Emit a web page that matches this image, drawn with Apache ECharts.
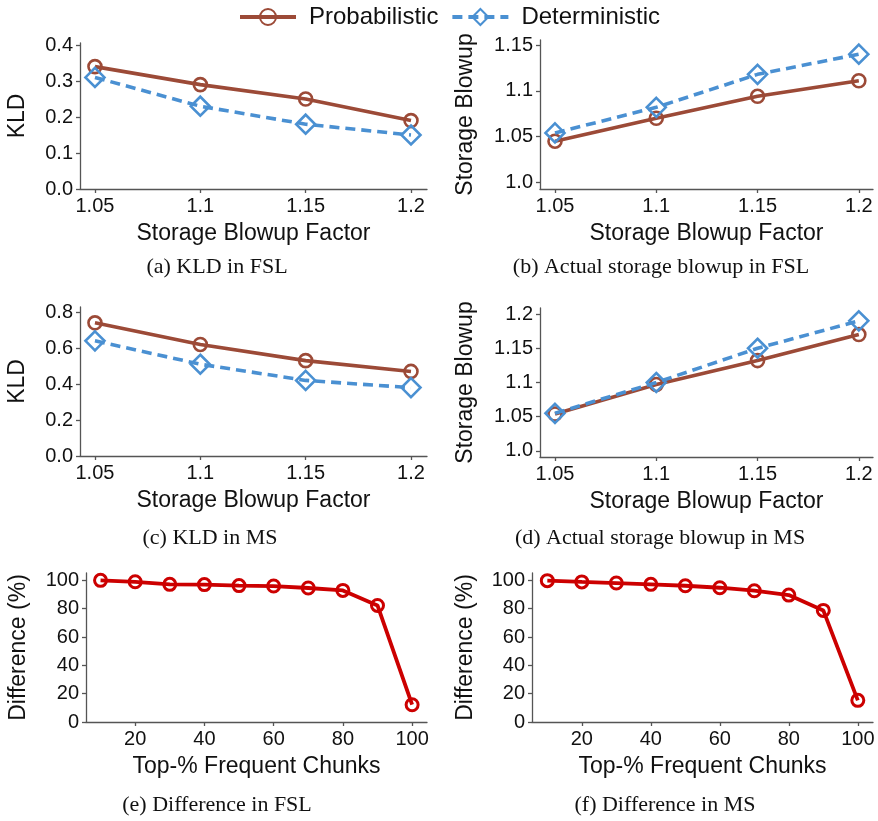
<!DOCTYPE html>
<html>
<head>
<meta charset="utf-8">
<script src="https://cdn.jsdelivr.net/npm/echarts@6/dist/echarts.min.js"></script>
<style>
  html, body { margin: 0; padding: 0; background: #fff; }
  #chart { width: 878px; height: 821px; }
</style>
</head>
<body>
<div id="chart"></div>
<script>
// x values
const blowupFactors = [1.05, 1.1, 1.15, 1.2];
const topPercent = [10, 20, 30, 40, 50, 60, 70, 80, 90, 100];

// (a) KLD in FSL
const kldFslProb = [0.34, 0.29, 0.25, 0.19];
const kldFslDet = [0.31, 0.23, 0.18, 0.15];
// (b) actual storage blowup in FSL
const blowFslProb = [1.045, 1.070, 1.094, 1.111];
const blowFslDet = [1.054, 1.082, 1.118, 1.140];
// (c) KLD in MS
const kldMsProb = [0.74, 0.62, 0.53, 0.47];
const kldMsDet = [0.64, 0.51, 0.42, 0.38];
// (d) actual storage blowup in MS
const blowMsProb = [1.054, 1.097, 1.132, 1.170];
const blowMsDet = [1.055, 1.100, 1.150, 1.190];
// (e)(f) difference
const diffFsl = [100, 99, 97.2, 97, 96.3, 96, 94.6, 92.9, 82.3, 12.2];
const diffMs = [99.8, 98.9, 98.1, 97.2, 96.2, 94.8, 92.7, 89.6, 78.8, 15.3];

// tick labels
const blowupTicks = [1.05, 1.1, 1.15, 1.2];
const kldFslTicks = [0, 0.1, 0.2, 0.3, 0.4];
const kldMsTicks = [0, 0.2, 0.4, 0.6, 0.8];
const blowFslTicks = [1.0, 1.05, 1.1, 1.15];
const blowMsTicks = [1.0, 1.05, 1.1, 1.15, 1.2];
const topTicks = [20, 40, 60, 80, 100];
const diffTicks = [0, 20, 40, 60, 80, 100];

const captions = [
  '(a) KLD in FSL', '(b) Actual storage blowup in FSL',
  '(c) KLD in MS', '(d) Actual storage blowup in MS',
  '(e) Difference in FSL', '(f) Difference in MS'
];

const colProb = '#9c4a37';
const colDet = '#4a90d2';
const colRed = '#cc0000';
const sans = 'Liberation Sans, Arial, sans-serif';
const axisCol = '#555';

const pairs = (xs, ys) => xs.map((x, i) => [x, ys[i]]);

function xAxis(idx, min, max, ticks, name) {
  return {
    type: 'value', gridIndex: idx, min: min, max: max,
    name: name, nameLocation: 'middle', nameGap: 33,
    nameTextStyle: { fontFamily: sans, fontSize: 23, color: '#111' },
    axisLine: { show: true, lineStyle: { color: axisCol, width: 1.3 } },
    axisTick: { show: true, length: 4, customValues: ticks, lineStyle: { color: axisCol, width: 1.3 } },
    axisLabel: { customValues: ticks, fontFamily: sans, fontSize: 20, color: '#111', margin: 7 },
    splitLine: { show: false }
  };
}

function yAxis(idx, min, max, ticks, name, gap, fmt) {
  return {
    type: 'value', gridIndex: idx, min: min, max: max,
    name: name, nameLocation: 'middle', nameGap: gap, nameRotate: 90,
    nameTextStyle: { fontFamily: sans, fontSize: 23, color: '#111' },
    axisLine: { show: true, lineStyle: { color: axisCol, width: 1.3 } },
    axisTick: { show: true, length: 4, customValues: ticks, lineStyle: { color: axisCol, width: 1.3 } },
    axisLabel: { customValues: ticks, fontFamily: sans, fontSize: 20, color: '#111', margin: 7, formatter: fmt },
    splitLine: { show: false }
  };
}

function probSeries(idx, ys) {
  return {
    name: 'Probabilistic', type: 'line', xAxisIndex: idx, yAxisIndex: idx,
    data: pairs(blowupFactors, ys),
    symbol: 'circle', symbolSize: 13,
    lineStyle: { color: colProb, width: 3.6 },
    itemStyle: { color: 'rgba(255,255,255,0)', borderColor: colProb, borderWidth: 2.6 },
    z: 3
  };
}

function detSeries(idx, ys) {
  return {
    name: 'Deterministic', type: 'line', xAxisIndex: idx, yAxisIndex: idx,
    data: pairs(blowupFactors, ys),
    symbol: 'diamond', symbolSize: 19,
    lineStyle: { color: colDet, width: 3.6, type: [10, 6] },
    itemStyle: { color: 'rgba(255,255,255,0)', borderColor: colDet, borderWidth: 2.6 },
    z: 4
  };
}

function diffSeries(idx, ys) {
  return {
    name: 'Difference', type: 'line', xAxisIndex: idx, yAxisIndex: idx,
    data: pairs(topPercent, ys),
    symbol: 'circle', symbolSize: 12,
    lineStyle: { color: colRed, width: 3.8 },
    itemStyle: { color: 'rgba(255,255,255,0)', borderColor: colRed, borderWidth: 3 }
  };
}

const fmt1 = v => v.toFixed(1);
const fmtBlow = v => (v === 1 ? '1.0' : String(+v.toFixed(2)));
const fmtInt = v => String(Math.round(v));

const chart = echarts.init(document.getElementById('chart'), null, { renderer: 'canvas' });

const option = {
  backgroundColor: '#fff',
  animation: false,
  legend: {
    data: ['Probabilistic', 'Deterministic'],
    left: 233, top: 0,
    itemWidth: 56, itemHeight: 20, itemGap: 12,
    lineStyle: { width: 4 },
    textStyle: { fontFamily: sans, fontSize: 24, color: '#111', padding: [0, 0, 0, 8] }
  },
  grid: [
    { left: 80, top: 43, width: 347, height: 146 },
    { left: 540, top: 40, width: 333, height: 149 },
    { left: 80, top: 307, width: 347, height: 149 },
    { left: 540, top: 308, width: 333, height: 149 },
    { left: 86, top: 573, width: 341, height: 149 },
    { left: 532, top: 573, width: 341, height: 149 }
  ],
  xAxis: [
    xAxis(0, 1.0429, 1.2076, blowupTicks, 'Storage Blowup Factor'),
    xAxis(1, 1.0426, 1.207, blowupTicks, 'Storage Blowup Factor'),
    xAxis(2, 1.0429, 1.2076, blowupTicks, 'Storage Blowup Factor'),
    xAxis(3, 1.0426, 1.207, blowupTicks, 'Storage Blowup Factor'),
    xAxis(4, 5.8, 104.3, topTicks, 'Top-% Frequent Chunks'),
    xAxis(5, 5.56, 104.4, topTicks, 'Top-% Frequent Chunks')
  ],
  yAxis: [
    yAxis(0, 0, 0.4056, kldFslTicks, 'KLD', 51, fmt1),
    yAxis(1, 0.9928, 1.1555, blowFslTicks, 'Storage Blowup', 63, fmtBlow),
    yAxis(2, 0, 0.828, kldMsTicks, 'KLD', 51, fmt1),
    yAxis(3, 0.9912, 1.2088, blowMsTicks, 'Storage Blowup', 63, fmtBlow),
    yAxis(4, 0, 105.2, diffTicks, 'Difference (%)', 56, fmtInt),
    yAxis(5, 0, 105.2, diffTicks, 'Difference (%)', 55, fmtInt)
  ],
  series: [
    probSeries(0, kldFslProb), detSeries(0, kldFslDet),
    probSeries(1, blowFslProb), detSeries(1, blowFslDet),
    probSeries(2, kldMsProb), detSeries(2, kldMsDet),
    probSeries(3, blowMsProb), detSeries(3, blowMsDet),
    diffSeries(4, diffFsl), diffSeries(5, diffMs)
  ],
  graphic: [
    [217, 267], [661, 267], [210, 538], [660, 538], [217, 805], [665, 805]
  ].map((p, i) => ({
    type: 'text', x: p[0], y: p[1],
    style: {
      text: captions[i], fill: '#111',
      font: '22px "Liberation Serif", "DejaVu Serif", serif',
      textAlign: 'center', textVerticalAlign: 'middle'
    }
  }))
};

chart.setOption(option);
</script>
</body>
</html>
